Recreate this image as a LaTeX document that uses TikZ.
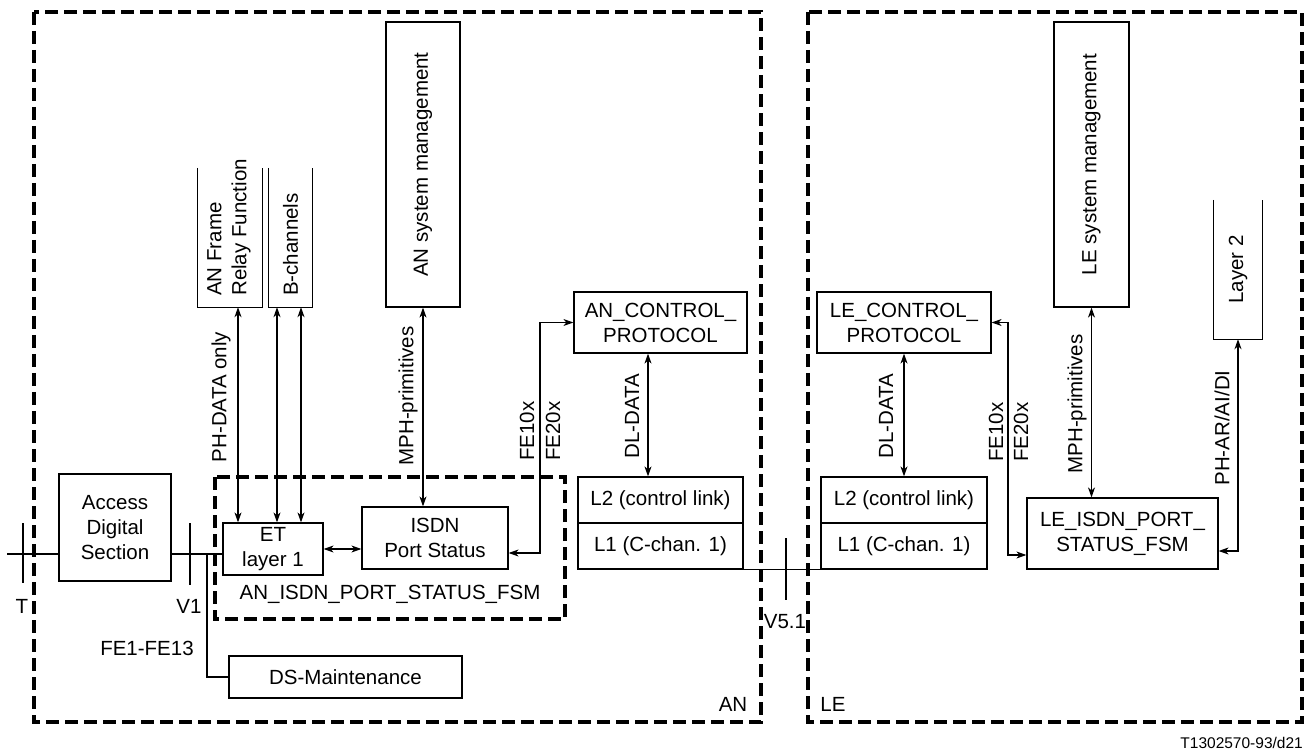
\documentclass[tikz,border=0pt]{standalone}
\usepackage{fontspec}
\setmainfont{Liberation Sans}
\usetikzlibrary{arrows.meta}
\newcommand\mainfs{\fontsize{20.5}{25}\selectfont}
\newcommand\capfs{\fontsize{15.5}{18}\selectfont}
\begin{document}
\begin{tikzpicture}[x=1pt,y=-1pt,
  >={Stealth[length=10pt,width=7pt,inset=3pt]},
  thin line/.style={line width=1.2pt},
  box/.style={draw, line width=1.2pt, inner sep=0pt, align=center, font=\mainfs},
  frame/.style={inner sep=0pt},
  lbl/.style={inner sep=0pt, font=\mainfs, align=center},
  vlbl/.style={inner sep=0pt, font=\mainfs, align=left, rotate=90},
  dbox/.style={line width=3.8pt, dash pattern=on 13pt off 6pt},
  conn/.style={line width=1.2pt}]
\useasboundingbox[fill=white] (0,0) rectangle (1310,751);

% dashed enclosures
\draw[dbox] (34,12) rectangle (761,722);
\draw[dbox] (808,12) rectangle (1302,722);
\draw[dbox] (215,477) rectangle (565,619);

% AN side boxes
\node[box, minimum width=112, minimum height=107] (ads) at (115,527.5) {Access\\Digital\\Section};
\node[box, minimum width=100, minimum height=52] (et) at (273,549) {ET\\layer 1};
\node[box, minimum width=146, minimum height=62] (isdn) at (435,538) {ISDN\\Port Status};
\node[box, minimum width=173, minimum height=61] (ctlA) at (660.5,322.5) {AN\_CONTROL\_\\PROTOCOL};
\node[box, minimum width=165, minimum height=46] (l2A) at (660.5,500) {L2 (control link)};
\node[box, minimum width=165, minimum height=46] (l1A) at (660.5,546) {L1 (C-chan. 1)};
\node[box, minimum width=233, minimum height=42] (dsm) at (345.5,677) {DS-Maintenance};
\node[box, minimum width=74, minimum height=285] (ansm) at (423,164.5) {};
\node[vlbl] at (ansm.center) {AN system management};

% open-top boxes
\node[frame, minimum width=64, minimum height=139] (afr) at (230,237.5) {};
\draw[conn] (afr.north west) -- (afr.south west) -- (afr.south east) -- (afr.north east);
\node[vlbl, anchor=west] at (229,296) {AN Frame\\Relay Function};
\node[frame, minimum width=43, minimum height=139] (bch) at (290.5,237.5) {};
\draw[conn] (bch.north west) -- (bch.south west) -- (bch.south east) -- (bch.north east);
\node[vlbl, anchor=west] at (290.5,296) {B-channels};

% LE side boxes
\node[box, minimum width=174, minimum height=61] (ctlL) at (904,322.5) {LE\_CONTROL\_\\PROTOCOL};
\node[box, minimum width=166, minimum height=46] (l2L) at (904,500) {L2 (control link)};
\node[box, minimum width=166, minimum height=46] (l1L) at (904,546) {L1 (C-chan. 1)};
\node[box, minimum width=191, minimum height=71] (fsmL) at (1122.5,533.5) {LE\_ISDN\_PORT\_\\STATUS\_FSM};
\node[box, minimum width=75, minimum height=285] (lesm) at (1091.5,164.5) {};
\node[vlbl] at (lesm.center) {LE system management};
\node[frame, minimum width=48, minimum height=139] (lay2) at (1238,269.5) {};
\draw[conn] (lay2.north west) -- (lay2.south west) -- (lay2.south east) -- (lay2.north east);
\node[vlbl] at (lay2.center) {Layer 2};

% reference line T - ADS - ET
\coordinate (tl) at (7,554);
\coordinate (j) at (207,554);
\draw[conn] (tl) -- (ads.west |- tl);
\draw[conn] (ads.east |- tl) -- (et.west |- tl);
\draw[conn] (j) |- (dsm.west);
\coordinate (ttop) at (23,523); \coordinate (tbot) at (23,583);
\draw[conn] (ttop) -- (tbot);
\coordinate (vtop) at (190,523); \coordinate (vbot) at (190,585);
\draw[conn] (vtop) -- (vbot);

% AN connectors
\coordinate (xa) at (238,0); \coordinate (xb) at (277,0); \coordinate (xc) at (301,0);
\draw[conn,<->] (afr.south -| xa) -- (et.north -| xa);
\draw[conn,<->] (bch.south -| xb) -- (et.north -| xb);
\draw[conn,<->] (bch.south -| xc) -- (et.north -| xc);
\draw[conn,<->] (ansm.south) -- (ansm.south |- isdn.north);
\draw[conn,<->] (et.east) -- (isdn.west |- et.east);
\coordinate (fea) at (540,553);
\draw[conn,<->] (isdn.east |- fea) -- (fea) |- (ctlA.west);
\coordinate (dla) at (648,0);
\draw[conn,<->] (ctlA.south -| dla) -- (l2A.north -| dla);

% V5.1 link
\draw[conn] (l1A.south east) -- (l1L.south west);
\coordinate (v5top) at (786,538); \coordinate (v5bot) at (786,600);
\draw[conn] (v5top) -- (v5bot);

% LE connectors
\draw[conn,<->] (ctlL.south) -- (l2L.north);
\coordinate (feb) at (1008,555);
\draw[conn,<->] (ctlL.east) -| (feb) -- (fsmL.west |- feb);
\draw[conn,<->] (lesm.south) -- (lesm.south |- fsmL.north);
\coordinate (pha) at (1238,551);
\draw[conn,<->] (lay2.south) |- (fsmL.east |- pha);

% labels
\node[lbl] (tlab) at (22,606) {T};
\node[lbl] (v1lab) at (189,606) {V1};
\node[lbl] (felab) at (147,648) {FE1-FE13};
\node[lbl] (fsmlab) at (390,594) {AN\_ISDN\_PORT\_STATUS\_FSM};
\node[lbl] (anlab) at (733,704) {AN};
\node[lbl] (lelab) at (833,704) {LE};
\node[lbl] (v5lab) at (785,622) {V5.1};
\node[vlbl] at (221,397) {PH-DATA only};
\node[vlbl] at (408,396) {MPH-primitives};
\node[vlbl] at (527,431) {FE10x};
\node[vlbl] at (553,431) {FE20x};
\node[vlbl] at (632,416) {DL-DATA};
\node[vlbl] at (886,416) {DL-DATA};
\node[vlbl] at (996,432) {FE10x};
\node[vlbl] at (1021,432) {FE20x};
\node[vlbl] at (1077,404) {MPH-primitives};
\node[vlbl] at (1222,428) {PH-AR/AI/DI};
\node[inner sep=0pt, font=\capfs, anchor=east] (cap) at (1303,743) {T1302570-93/d21};
\end{tikzpicture}
\end{document}
